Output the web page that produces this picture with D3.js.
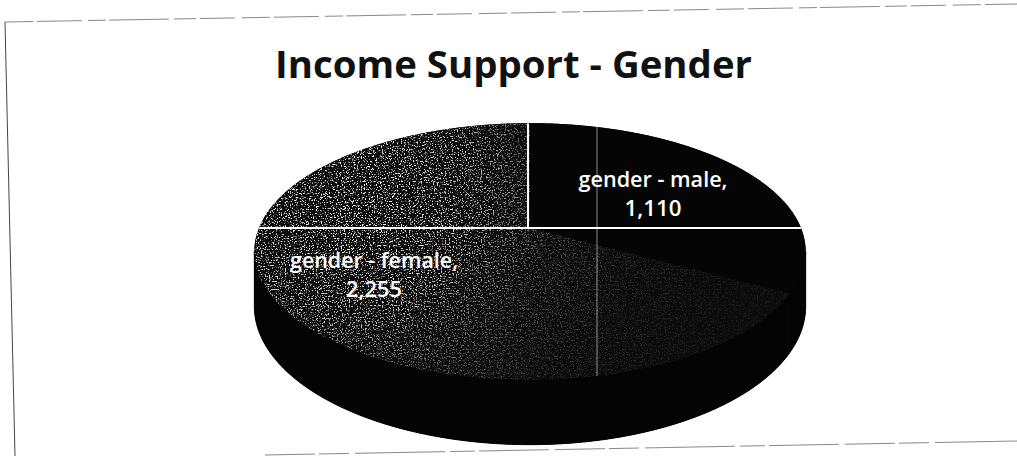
<!DOCTYPE html>
<html>
<head>
<meta charset="utf-8">
<script src="https://cdn.jsdelivr.net/npm/d3@7/dist/d3.min.js"></script>
<style>
  html, body { margin: 0; padding: 0; background: #fff; }
  svg { display: block; }
</style>
</head>
<body>
<svg id="chart" width="1017" height="456"></svg>
<script>
// ---- data ----
const title = "Income Support - Gender";
const categories = ["gender - male", "gender - female"];
const values = [1110, 2255];

// ---- layout ----
const W = 1017, H = 456;
const cx = 530, cy = 228;   // projected centre of the pie (where slices meet)
const R = 271;              // radius, screen units
const A = 124;              // vertical extent of the top face
const D = 53;               // thickness of the pie
const K = 0.183;            // perspective strength (front nearer than back)

const topFill = ["#050505", "#0b0b0b"];
const sideFill = ["#040404", "#040404"];

const svg = d3.select("#chart");

// perspective projection of a rim point at angle theta (clockwise from 12 o'clock);
// drop = 0 for the top face, 1 for the bottom face
function proj(theta, drop = 0) {
  const X = Math.sin(theta), Z = -Math.cos(theta);
  const w = 1 - K * Z;
  return [cx + R * X / w, cy + (A * Z + D * drop) / w];
}
function arcPoints(a0, a1, drop = 0) {
  const n = Math.max(2, Math.ceil(Math.abs(a1 - a0) / 0.01));
  return d3.range(n + 1).map(i => proj(a0 + (a1 - a0) * i / n, drop));
}
const line = d3.line();

const pie = d3.pie().sort(null).value(d => d)
  .startAngle(0).endAngle(2 * Math.PI);
const arcs = pie(values);

// ---- defs: grainy texture for the lighter slice ----
const defs = svg.append("defs");
const f = defs.append("filter").attr("id", "grain")
  .attr("x", 0).attr("y", 0).attr("width", 1).attr("height", 1);
f.append("feTurbulence").attr("type", "fractalNoise")
  .attr("baseFrequency", 0.75).attr("numOctaves", 2).attr("seed", 11).attr("result", "noise");
f.append("feColorMatrix").attr("type", "matrix")
  .attr("values", "0 0 0 0 1  0 0 0 0 1  0 0 0 0 1  1 0 0 0 0");
f.append("feComponentTransfer")
  .append("feFuncA").attr("type", "linear").attr("slope", 7).attr("intercept", -3.85);

const grad = defs.append("radialGradient").attr("id", "grainFade")
  .attr("gradientUnits", "userSpaceOnUse")
  .attr("cx", 350).attr("cy", 195).attr("r", 400);
grad.append("stop").attr("offset", 0).attr("stop-color", "#fff");
grad.append("stop").attr("offset", 0.3).attr("stop-color", "#cfcfcf");
grad.append("stop").attr("offset", 0.5).attr("stop-color", "#5a5a5a");
grad.append("stop").attr("offset", 0.7).attr("stop-color", "#2a2a2a");
grad.append("stop").attr("offset", 1).attr("stop-color", "#141414");
defs.append("mask").attr("id", "fadeMask")
  .append("rect").attr("x", 0).attr("y", 0).attr("width", W).attr("height", H)
  .attr("fill", "url(#grainFade)");

// ---- frame of the chart area ----
svg.append("path")
  .attr("d", "M5,22 L1017,4")
  .attr("fill", "none").attr("stroke", "#8a8a8a").attr("stroke-width", 1)
  .attr("stroke-dasharray", "28 4 45 6 18 3 60 5 22 4 35 7");
svg.append("path")
  .attr("d", "M5,22 L15,456")
  .attr("fill", "none").attr("stroke", "#444").attr("stroke-width", 1);
svg.append("path")
  .attr("d", "M265,455 L1017,441")
  .attr("fill", "none").attr("stroke", "#8a8a8a").attr("stroke-width", 1)
  .attr("stroke-dasharray", "50 4 30 6 90 5 25 4 70 6");

// ---- title ----
svg.append("text")
  .attr("x", 275).attr("y", 78)
  .attr("textLength", 477).attr("lengthAdjust", "spacingAndGlyphs")
  .attr("font-family", "'Open Sans', 'DejaVu Sans', sans-serif")
  .attr("font-weight", 700).attr("font-size", 37)
  .attr("fill", "#111")
  .text(title);

const g = svg.append("g");

// ---- solid body: silhouette of top face + front wall ----
const lo = Math.acos(-K), hi = 2 * Math.PI - Math.acos(-K);
const body = arcPoints(hi - 2 * Math.PI, lo)
  .concat(arcPoints(lo, hi, 1));
g.append("path").attr("d", line(body) + "Z").attr("fill", sideFill[0]);

// ---- side walls: only the front part of the rim faces the viewer ----
arcs.forEach((a, i) => {
  const t0 = Math.max(a.startAngle, lo), t1 = Math.min(a.endAngle, hi);
  if (t1 <= t0) return;
  const pts = arcPoints(t0, t1).concat(arcPoints(t1, t0, 1));
  g.append("path").attr("d", line(pts) + "Z").attr("fill", sideFill[i])
    .attr("stroke", sideFill[i]).attr("stroke-width", 1);
});

// ---- top faces ----
const topPath = a => line([[cx, cy]].concat(arcPoints(a.startAngle, a.endAngle))) + "Z";
arcs.forEach((a, i) => {
  g.append("path").attr("d", topPath(a)).attr("fill", topFill[i]);
});

// grain on the female slice
defs.append("clipPath").attr("id", "femaleTop")
  .append("path").attr("d", topPath(arcs[1]));
g.append("g").attr("clip-path", "url(#femaleTop)").attr("mask", "url(#fadeMask)")
  .append("rect")
  .attr("x", cx - R - 10).attr("y", cy - A).attr("width", 2 * R + 20).attr("height", 2 * A + 40)
  .attr("filter", "url(#grain)");

// ---- seams across the top ----
const pieOutline = line(arcPoints(0, 2 * Math.PI));
defs.append("clipPath").attr("id", "pieTop").append("path").attr("d", pieOutline);
const seams = g.append("g").attr("clip-path", "url(#pieTop)");
seams.append("line").attr("x1", cx - R - 20).attr("x2", cx + R + 20)
  .attr("y1", cy).attr("y2", cy)
  .attr("stroke", "#fff").attr("stroke-width", 2);
// slice border at 12 o'clock
const top0 = proj(arcs[0].startAngle);
seams.append("line").attr("x1", cx - 2).attr("x2", top0[0] - 2)
  .attr("y1", cy).attr("y2", top0[1])
  .attr("stroke", "#fff").attr("stroke-width", 2);
seams.append("line").attr("x1", cx + 67).attr("x2", cx + 67)
  .attr("y1", cy - A).attr("y2", cy + 2 * A)
  .attr("stroke", "#e8e8e8").attr("stroke-width", 1).attr("opacity", 0.6);

// ---- data labels ----
const fmt = d3.format(",");
const labelPos = [[653, 187], [374, 268]];
const labelWidths = [[149, 57], [168, 56]];
arcs.forEach((a, i) => {
  const t = g.append("text")
    .attr("font-family", "'Open Sans', 'DejaVu Sans', sans-serif")
    .attr("font-weight", 600)
    .attr("font-size", 21).attr("fill", "#fff").attr("text-anchor", "middle");
  t.append("tspan").attr("x", labelPos[i][0]).attr("y", labelPos[i][1])
    .attr("textLength", labelWidths[i][0]).attr("lengthAdjust", "spacingAndGlyphs")
    .text(categories[i] + ",");
  t.append("tspan").attr("x", labelPos[i][0]).attr("y", labelPos[i][1] + 29)
    .attr("textLength", labelWidths[i][1]).attr("lengthAdjust", "spacingAndGlyphs")
    .text(fmt(values[i]));
});
</script>
</body>
</html>
